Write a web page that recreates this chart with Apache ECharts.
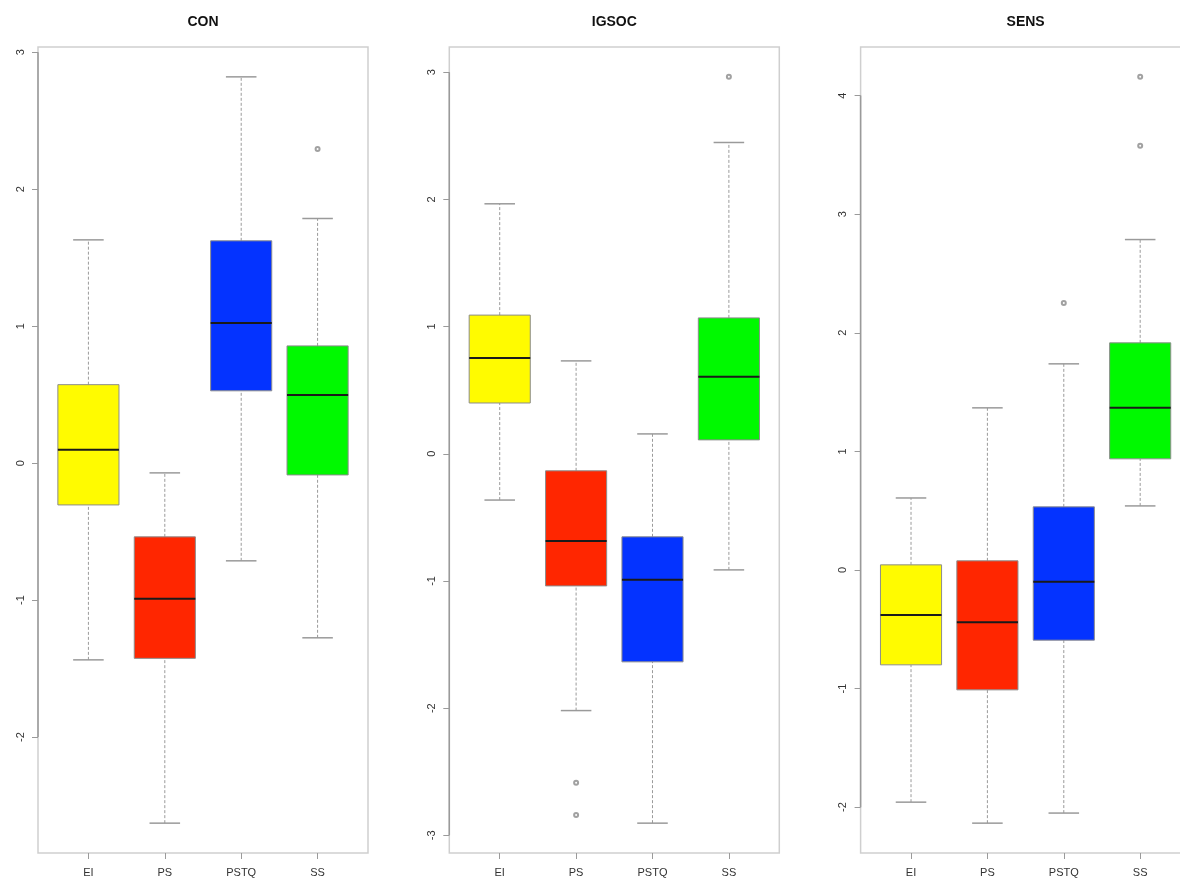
<!DOCTYPE html>
<html><head><meta charset="utf-8">
<script src="https://cdn.jsdelivr.net/npm/echarts@6/dist/echarts.min.js"></script>
<style>html,body{margin:0;padding:0;overflow:hidden;background:#fff;width:1180px;height:878px}#c{width:1200px;height:878px}</style>
</head><body><div id="c"></div>
<script>
const panelTitles = ['CON', 'IGSOC', 'SENS'];
const categories = ['EI', 'PS', 'PSTQ', 'SS'];
const boxColors = ['#FFFB00', '#FF2600', '#0433FF', '#00F900'];
// each box: [lower whisker, Q1, median, Q3, upper whisker]
const conBoxes = [
  [-1.436, -0.305, 0.097, 0.573, 1.63],
  [-2.628, -1.425, -0.99, -0.538, -0.071],
  [-0.713, 0.528, 1.024, 1.623, 2.82],
  [-1.275, -0.086, 0.498, 0.856, 1.786]
];
const conOutliers = [[4, 2.294]];
const igsocBoxes = [
  [-0.364, 0.399, 0.753, 1.09, 1.965],
  [-2.019, -1.039, -0.685, -0.134, 0.73],
  [-2.904, -1.636, -0.991, -0.653, 0.156],
  [-0.913, 0.109, 0.605, 1.068, 2.447]
];
const igsocOutliers = [[2, -2.587], [2, -2.839], [4, 2.963]];
const sensBoxes = [
  [-1.958, -0.8, -0.379, 0.043, 0.607],
  [-2.135, -1.011, -0.44, 0.077, 1.367],
  [-2.05, -0.592, -0.1, 0.532, 1.738],
  [0.54, 0.937, 1.367, 1.915, 2.786]
];
const sensOutliers = [[3, 2.252], [4, 4.158], [4, 3.576]];
const conTicks = [-2, -1, 0, 1, 2, 3];
const igsocTicks = [-3, -2, -1, 0, 1, 2, 3];
const sensTicks = [-2, -1, 0, 1, 2, 3, 4];
const catPositions = [1, 2, 3, 4];

const panelBoxes = [conBoxes, igsocBoxes, sensBoxes];
const panelOutliers = [conOutliers, igsocOutliers, sensOutliers];
const panelTicks = [conTicks, igsocTicks, sensTicks];

// layout
const gridLefts = [38, 449.3, 860.6];
const gridWidth = 330;
const gridTop = 47, gridHeight = 806;
const xMin = 0.34, xMax = 4.66;
const FONT = '"Liberation Sans", Arial, Helvetica, sans-serif';

function yRange(boxes, outs) {
  let lo = Infinity, hi = -Infinity;
  boxes.forEach(b => { lo = Math.min(lo, b[0]); hi = Math.max(hi, b[4]); });
  outs.forEach(o => { lo = Math.min(lo, o[1]); hi = Math.max(hi, o[1]); });
  const d = (hi - lo) * 0.04;
  return [lo - d, hi + d];
}

function renderBox(params, api) {
  const x = api.value(0);
  const lo = api.value(1), q1 = api.value(2), md = api.value(3), q3 = api.value(4), hi = api.value(5);
  const hw = api.size([0.4, 0])[0];
  const cw = hw / 2;
  const pLo = api.coord([x, lo]), pQ1 = api.coord([x, q1]), pMd = api.coord([x, md]);
  const pQ3 = api.coord([x, q3]), pHi = api.coord([x, hi]);
  const cx = pLo[0];
  const color = boxColors[params.dataIndex];
  const wStyle = { stroke: '#9a9a9a', lineWidth: 1, lineDash: [3, 2] };
  const cStyle = { stroke: '#9a9a9a', lineWidth: 1.5 };
  return {
    type: 'group',
    children: [
      { type: 'line', shape: { x1: cx, y1: pQ3[1], x2: cx, y2: pHi[1] }, style: wStyle },
      { type: 'line', shape: { x1: cx, y1: pLo[1], x2: cx, y2: pQ1[1] }, style: wStyle },
      { type: 'line', shape: { x1: cx - cw, y1: pHi[1], x2: cx + cw, y2: pHi[1] }, style: cStyle },
      { type: 'line', shape: { x1: cx - cw, y1: pLo[1], x2: cx + cw, y2: pLo[1] }, style: cStyle },
      { type: 'rect', shape: { x: cx - hw, y: pQ3[1], width: 2 * hw, height: pQ1[1] - pQ3[1] },
        style: { fill: color, stroke: '#8c8c8c', lineWidth: 1 } },
      { type: 'line', shape: { x1: cx - hw, y1: pMd[1], x2: cx + hw, y2: pMd[1] },
        style: { stroke: '#1a1a1a', lineWidth: 2 } }
    ]
  };
}

function renderAxisLine(params, api) {
  const a = api.coord([xMin, api.value(0)]);
  const b = api.coord([xMin, api.value(1)]);
  return { type: 'line', shape: { x1: a[0], y1: a[1], x2: b[0], y2: b[1] },
    style: { stroke: '#9a9a9a', lineWidth: 1.5 } };
}

const grids = [], xAxes = [], yAxes = [], series = [], graphics = [];
panelTitles.forEach((t, i) => {
  const boxes = panelBoxes[i], outs = panelOutliers[i], ticks = panelTicks[i];
  const r = yRange(boxes, outs);
  grids.push({ left: gridLefts[i], top: gridTop, width: gridWidth, height: gridHeight,
    show: true, borderColor: '#cfcfcf', borderWidth: 1.5, backgroundColor: 'transparent' });
  xAxes.push({
    type: 'value', gridIndex: i, min: xMin, max: xMax, position: 'bottom',
    splitLine: { show: false }, axisLine: { show: false, onZero: false },
    axisTick: { show: true, length: 6, customValues: catPositions, lineStyle: { color: '#9a9a9a', width: 1 } },
    axisLabel: { show: true, customValues: catPositions, margin: 14,
      formatter: v => categories[Math.round(v) - 1],
      color: '#333', fontSize: 11, fontFamily: FONT }
  });
  yAxes.push({
    type: 'value', gridIndex: i, min: r[0], max: r[1], position: 'left',
    splitLine: { show: false }, axisLine: { show: false, onZero: false },
    axisTick: { show: true, length: 6, customValues: ticks, lineStyle: { color: '#9a9a9a', width: 1 } },
    axisLabel: { show: true, customValues: ticks, rotate: 90, margin: 12,
      color: '#333', fontSize: 11, fontFamily: FONT }
  });
  series.push({
    type: 'custom', xAxisIndex: i, yAxisIndex: i,
    renderItem: renderAxisLine,
    data: [[ticks[0], ticks[ticks.length - 1]]],
    silent: true, z: 1
  });
  series.push({
    type: 'custom', xAxisIndex: i, yAxisIndex: i,
    renderItem: renderBox,
    encode: { x: 0, y: [1, 2, 3, 4, 5] },
    data: boxes.map((b, k) => [catPositions[k]].concat(b)),
    z: 2
  });
  series.push({
    type: 'scatter', xAxisIndex: i, yAxisIndex: i,
    symbol: 'emptyCircle', symbolSize: 4,
    itemStyle: { color: '#8a8a8a', borderColor: '#8a8a8a', borderWidth: 1 },
    data: outs, z: 3
  });
  graphics.push({
    type: 'text', x: gridLefts[i] + gridWidth / 2, y: 22,
    style: { text: t, fontSize: 14, fontWeight: 'bold', fontFamily: FONT, fill: '#111',
      align: 'center', verticalAlign: 'middle' }
  });
});

const chart = echarts.init(document.getElementById('c'));
chart.setOption({
  animation: false,
  backgroundColor: '#fff',
  grid: grids, xAxis: xAxes, yAxis: yAxes, series: series, graphic: graphics
});
</script>
</body></html>
